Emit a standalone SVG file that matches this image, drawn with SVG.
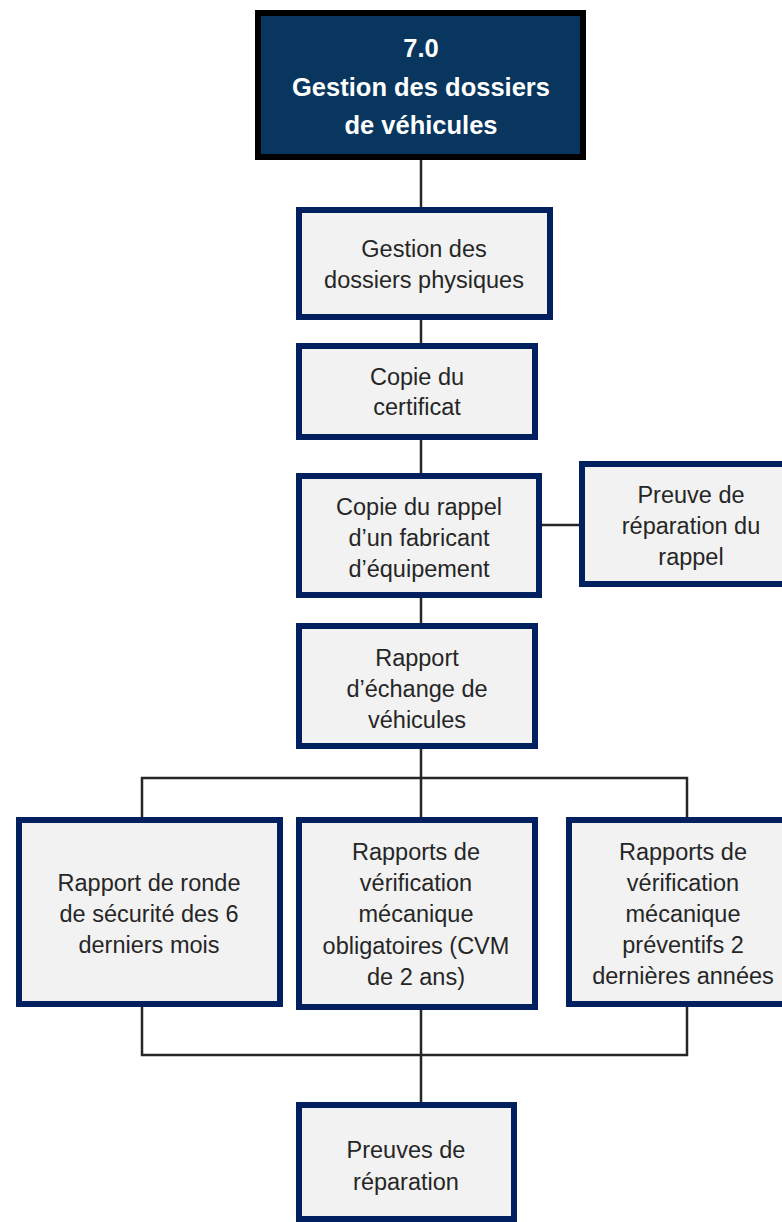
<svg xmlns="http://www.w3.org/2000/svg" width="782" height="1222" viewBox="0 0 782 1222">
<style>
.box{fill:#f2f2f2;stroke:#002060;stroke-width:6}
.top{fill:#08365f;stroke:#000;stroke-width:6}
.t{font-family:"Liberation Sans",Arial,sans-serif;font-size:23.5px;fill:#262626;text-anchor:middle}
.tt{font-family:"Liberation Sans",Arial,sans-serif;font-size:25.5px;font-weight:bold;fill:#fff;text-anchor:middle}
.c{fill:none;stroke:#262626;stroke-width:2.5}
</style>
<rect width="782" height="1222" fill="#fff"/>
<g id="connectors">
<path class="c" d="M421 159V208M421 320V343M421 440V473M421 598V626M421 748V818"/>
<path class="c" d="M541 525H580"/>
<path class="c" d="M142 818V778H687V818"/>
<path class="c" d="M142 1007V1055H687V1007M421 1010V1103"/>
</g>
<g id="n0">
<rect class="top" x="258" y="13" width="325" height="144"/>
<text class="tt" x="421" y="57">7.0</text>
<text class="tt" x="421" y="96">Gestion des dossiers</text>
<text class="tt" x="421" y="134">de véhicules</text>
</g>
<g id="n1">
<rect class="box" x="299" y="210" width="251" height="107"/>
<text class="t" x="424" y="257">Gestion des</text>
<text class="t" x="424" y="288">dossiers physiques</text>
</g>
<g id="n2">
<rect class="box" x="299" y="346" width="236" height="91"/>
<text class="t" x="417" y="385">Copie du</text>
<text class="t" x="417" y="415">certificat</text>
</g>
<g id="n3">
<rect class="box" x="299" y="476" width="240" height="119"/>
<text class="t" x="419" y="515">Copie du rappel</text>
<text class="t" x="419" y="546">d’un fabricant</text>
<text class="t" x="419" y="577">d’équipement</text>
</g>
<g id="n3b">
<rect class="box" x="582" y="464" width="220" height="120"/>
<text class="t" x="691" y="503">Preuve de</text>
<text class="t" x="691" y="534">réparation du</text>
<text class="t" x="691" y="565">rappel</text>
</g>
<g id="n4">
<rect class="box" x="299" y="626" width="236" height="120"/>
<text class="t" x="417" y="666">Rapport</text>
<text class="t" x="417" y="697">d’échange de</text>
<text class="t" x="417" y="728">véhicules</text>
</g>
<g id="n5">
<rect class="box" x="19" y="820" width="261" height="184"/>
<text class="t" x="149" y="891">Rapport de ronde</text>
<text class="t" x="149" y="922">de sécurité des 6</text>
<text class="t" x="149" y="953">derniers mois</text>
</g>
<g id="n6">
<rect class="box" x="299" y="820" width="236" height="187"/>
<text class="t" x="416" y="860">Rapports de</text>
<text class="t" x="416" y="891">vérification</text>
<text class="t" x="416" y="922">mécanique</text>
<text class="t" x="416" y="954">obligatoires (CVM</text>
<text class="t" x="416" y="985">de 2 ans)</text>
</g>
<g id="n7">
<rect class="box" x="569" y="820" width="230" height="184"/>
<text class="t" x="683" y="860">Rapports de</text>
<text class="t" x="683" y="891">vérification</text>
<text class="t" x="683" y="922">mécanique</text>
<text class="t" x="683" y="953">préventifs 2</text>
<text class="t" x="683" y="984">dernières années</text>
</g>
<g id="n8">
<rect class="box" x="299" y="1105" width="215" height="114"/>
<text class="t" x="406" y="1158">Preuves de</text>
<text class="t" x="406" y="1190">réparation</text>
</g>
</svg>
